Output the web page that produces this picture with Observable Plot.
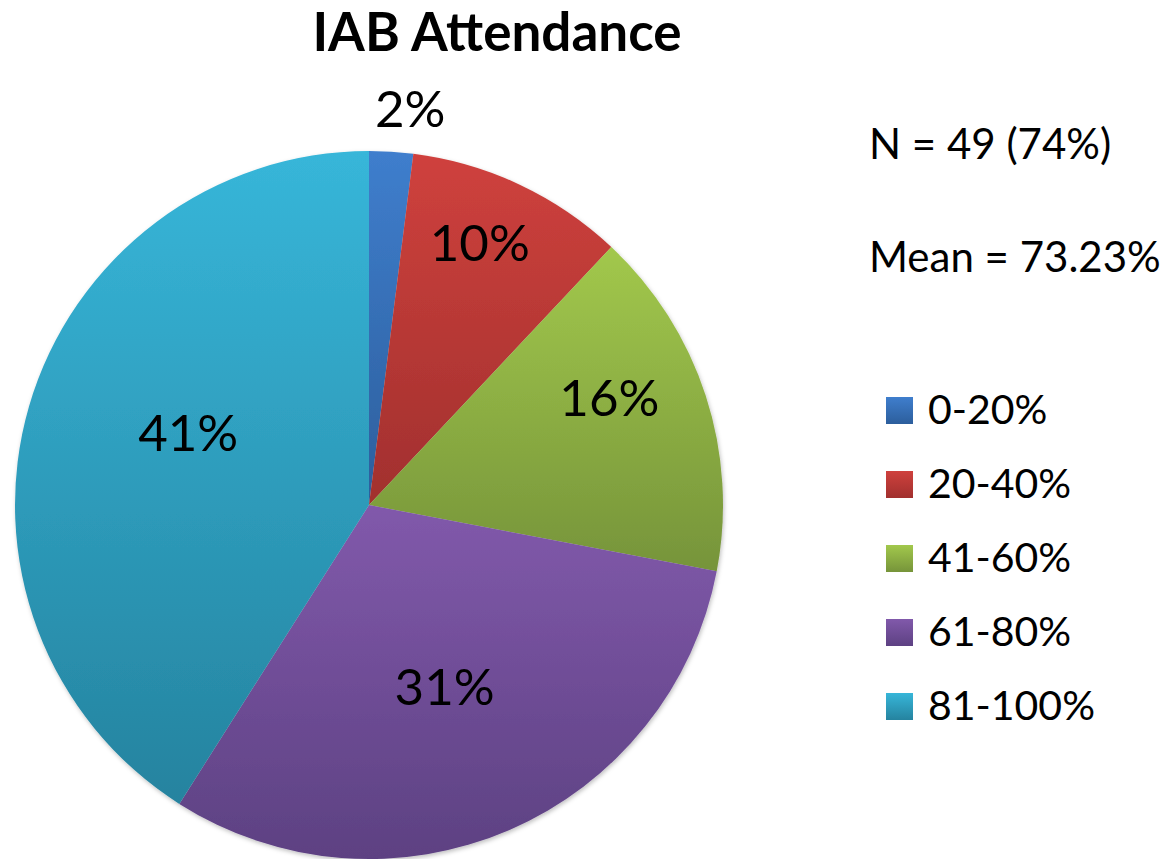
<!DOCTYPE html>
<html>
<head>
<meta charset="utf-8">
<script src="https://cdn.jsdelivr.net/npm/d3@7"></script>
<script src="https://cdn.jsdelivr.net/npm/@observablehq/plot@0.6"></script>
<style>
  html, body { margin: 0; padding: 0; background: #fff; }
  body { width: 1176px; height: 859px; position: relative; overflow: hidden; font-family: Lato, "Open Sans", sans-serif; color: #000; }
  #chart { position: absolute; left: 0; top: 0; }
  #title { position: absolute; left: 247px; width: 500px; top: 0px; text-align: center; font-weight: bold; font-size: 53px; line-height: 62px; }
  .stat { position: absolute; left: 869px; font-size: 42px; line-height: 50px; white-space: nowrap; }
  #legend { position: absolute; left: 886px; top: 371px; }
  .item { display: flex; align-items: center; height: 74px; font-size: 41px; }
  .sw { width: 27px; height: 27px; margin-right: 15px; margin-top: 4px; }
</style>
</head>
<body>
<div id="chart"></div>
<div id="title"></div>
<div id="stats"></div>
<div id="legend"></div>
<script>
const categories = ["0-20%", "20-40%", "41-60%", "61-80%", "81-100%"];
const shares = [2, 10, 16, 31, 41];
const topColors = ["#3f7ecd", "#cf413d", "#a2c84c", "#8159ab", "#37b6d9"];
const bottomColors = ["#2c5e9c", "#a1302e", "#76943a", "#5d4182", "#25839f"];
const titleText = "IAB Attendance";
const statLines = ["N = 49 (74%)", "Mean = 73.23%"];

// label placement (fraction of radius) for each slice, like Excel's best-fit labels
const labelRadius = [1.12, 0.80, 0.74, 0.56, 0.55];
const labelAngleShift = [0.04, -0.04, -0.1, 0.02, 0.09];

const W = 740, H = 859;
const cx = 369, cy = 505, R = 354;

const pie = d3.pie().sort(null).value(d => d.share)(
  categories.map((c, i) => ({category: c, share: shares[i], i}))
);
const slices = pie.map(p => ({
  ...p.data,
  a0: p.startAngle,
  a1: p.endAngle,
  mid: (p.startAngle + p.endAngle) / 2
}));
const labels = slices.map(s => {
  const a = s.mid + labelAngleShift[s.i];
  const r = labelRadius[s.i];
  return {text: s.share + "%", x: r * Math.sin(a), y: r * Math.cos(a)};
});

function pieMark(index, scales, values, dimensions, context) {
  const g = d3.create("svg:g");
  const x0 = scales.x(0), y0 = scales.y(0);
  const rad = scales.x(1) - scales.x(0);
  const defs = g.append("defs");
  slices.forEach(s => {
    const lg = defs.append("linearGradient").attr("id", "grad" + s.i)
      .attr("x1", 0).attr("y1", 0).attr("x2", 0).attr("y2", 1);
    lg.append("stop").attr("offset", "0%").attr("stop-color", topColors[s.i]);
    lg.append("stop").attr("offset", "100%").attr("stop-color", bottomColors[s.i]);
  });
  const f = defs.append("filter").attr("id", "shadow").attr("x", "-10%").attr("y", "-10%").attr("width", "120%").attr("height", "120%");
  f.append("feDropShadow").attr("dx", 1).attr("dy", 2).attr("stdDeviation", 2).attr("flood-color", "#000").attr("flood-opacity", 0.25);
  const arc = d3.arc().innerRadius(0).outerRadius(rad);
  const pg = g.append("g").attr("transform", `translate(${x0},${y0})`).attr("filter", "url(#shadow)");
  pg.selectAll("path").data(slices).join("path")
    .attr("d", s => arc({startAngle: s.a0, endAngle: s.a1}))
    .attr("fill", s => `url(#grad${s.i})`);
  return g.node();
}

const chart = Plot.plot({
  width: W,
  height: H,
  margin: 0,
  x: {domain: [-1, 1], range: [cx - R, cx + R], axis: null},
  y: {domain: [-1, 1], range: [cy + R, cy - R], axis: null},
  style: {background: "transparent", overflow: "visible"},
  marks: [
    pieMark,
    Plot.text(labels, {x: "x", y: "y", text: "text", fontSize: 51, fill: "#000",
      fontFamily: "Lato, 'Open Sans', sans-serif", textAnchor: "middle", lineAnchor: "middle"})
  ]
});
document.getElementById("chart").appendChild(chart);

document.getElementById("title").textContent = titleText;
const stats = document.getElementById("stats");
statLines.forEach((t, i) => {
  const d = document.createElement("div");
  d.className = "stat";
  d.style.top = (118 + i * 113) + "px";
  d.textContent = t;
  stats.appendChild(d);
});
const legend = document.getElementById("legend");
categories.forEach((c, i) => {
  const it = document.createElement("div");
  it.className = "item";
  const sw = document.createElement("div");
  sw.className = "sw";
  sw.style.background = `linear-gradient(${topColors[i]}, ${bottomColors[i]})`;
  const lb = document.createElement("span");
  lb.textContent = c;
  it.appendChild(sw);
  it.appendChild(lb);
  legend.appendChild(it);
});
</script>
</body>
</html>
